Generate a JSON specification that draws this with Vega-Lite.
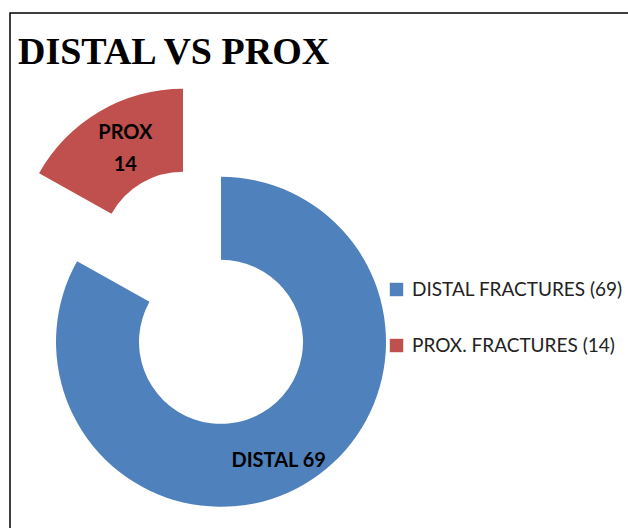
{
  "$schema": "https://vega.github.io/schema/vega-lite/v6.json",
  "autosize": "none",
  "width": 640,
  "height": 540,
  "padding": {"left": 10, "top": 13, "right": 0, "bottom": 0},
  "background": "white",
  "title": {
    "text": "DISTAL VS PROX",
    "font": "Liberation Serif",
    "fontSize": 38,
    "fontWeight": "bold",
    "color": "black",
    "anchor": "start",
    "frame": "group",
    "orient": "top",
    "baseline": "alphabetic",
    "offset": -89,
    "dx": 8
  },
  "data": {
    "values": [
      {"category": "DISTAL FRACTURES (69)", "count": 69, "label": "DISTAL 69", "order": 1},
      {"category": "PROX. FRACTURES (14)", "count": 14, "label": "PROX\n14", "order": 2}
    ]
  },
  "transform": [
    {"stack": "count", "groupby": [], "sort": [{"field": "order", "order": "ascending"}], "as": ["t0", "t1"]},
    {"calculate": "(datum.t0 + datum.t1) / 2", "as": "mid"}
  ],
  "encoding": {
    "x": {"datum": 0.3297, "type": "quantitative", "scale": {"domain": [0, 1], "nice": false, "zero": false}, "axis": null},
    "y": {"datum": 0.609, "type": "quantitative", "scale": {"domain": [0, 1], "nice": false, "zero": false, "reverse": true}, "axis": null}
  },
  "layer": [
    {
      "transform": [{"filter": "datum.order == 1"}],
      "mark": {"type": "arc", "outerRadius": 165, "innerRadius": 82},
      "encoding": {
        "theta": {"field": "t0", "type": "quantitative", "scale": {"domain": [0, 83], "nice": false}},
        "theta2": {"field": "t1"},
        "color": {
          "field": "category",
          "type": "nominal",
          "scale": {"domain": ["DISTAL FRACTURES (69)", "PROX. FRACTURES (14)"], "range": ["#4F81BD", "#C0504D"]},
          "legend": {
            "title": null,
            "orient": "none",
            "legendX": 377,
            "legendY": 267,
            "symbolType": "square",
            "symbolSize": 180,
            "symbolStrokeWidth": 0,
            "symbolOpacity": 1,
            "labelFont": "Lato",
            "labelFontSize": 19,
            "labelColor": "#222222",
            "labelOffset": 6,
            "labelLimit": 400,
            "rowPadding": 36
          }
        }
      }
    },
    {
      "transform": [{"filter": "datum.order == 2"}],
      "mark": {"type": "arc", "outerRadius": 165, "innerRadius": 82, "xOffset": -38, "yOffset": -88},
      "encoding": {
        "theta": {"field": "t0", "type": "quantitative", "scale": {"domain": [0, 83], "nice": false}},
        "theta2": {"field": "t1"},
        "color": {"field": "category", "type": "nominal"}
      }
    },
    {
      "transform": [{"filter": "datum.order == 1"}],
      "mark": {"type": "text", "radius": 124, "font": "Lato", "fontWeight": "bold", "fontSize": 20, "color": "black", "align": "center", "baseline": "middle", "dy": 12, "dx": -5},
      "encoding": {
        "theta": {"field": "mid", "type": "quantitative", "scale": {"domain": [0, 83], "nice": false}},
        "text": {"field": "label"}
      }
    },
    {
      "transform": [{"filter": "datum.order == 2"}],
      "mark": {"type": "text", "radius": 124, "font": "Lato", "fontWeight": "bold", "fontSize": 20, "color": "black", "align": "center", "baseline": "middle", "lineBreak": "\n", "lineHeight": 32, "xOffset": -38, "yOffset": -88, "dx": 5, "dy": -14},
      "encoding": {
        "theta": {"field": "mid", "type": "quantitative", "scale": {"domain": [0, 83], "nice": false}},
        "text": {"field": "label"}
      }
    }
  ],
  "config": {
    "view": {"stroke": "black", "strokeWidth": 1.5}
  }
}
